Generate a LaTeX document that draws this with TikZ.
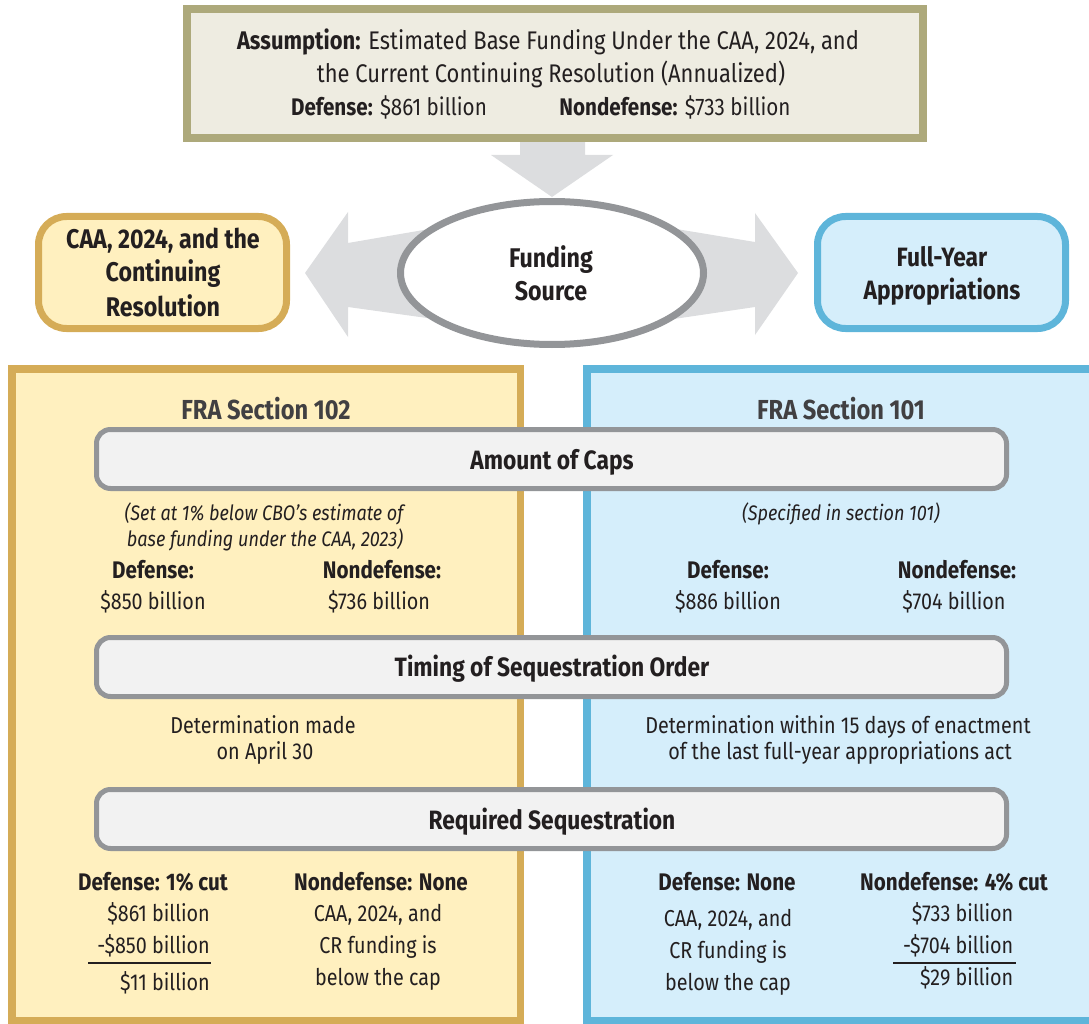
\documentclass[tikz,border=0pt]{standalone}
\usepackage{fontspec}
\setmainfont{Fira Sans}[FakeStretch=0.86]
\usetikzlibrary{shapes.geometric}
\definecolor{ink}{HTML}{231F20}
\definecolor{hdr}{HTML}{414042}
\definecolor{olive}{HTML}{ADA97B}
\definecolor{topfill}{HTML}{EEECE1}
\definecolor{gold}{HTML}{D5AC57}
\definecolor{yfill}{HTML}{FFF0BF}
\definecolor{bluel}{HTML}{5EB5DA}
\definecolor{bfill}{HTML}{D5EEFB}
\definecolor{barline}{HTML}{939598}
\definecolor{barfill}{HTML}{F2F2F2}
\definecolor{arrowc}{HTML}{DCDDDF}
\begin{document}
\begin{tikzpicture}[x=1pt,y=-1pt,
  txt/.style={inner sep=0pt, anchor=base, text=ink, font=\fontsize{23}{27}\selectfont},
  btxt/.style={txt, font=\fontsize{24}{28}\selectfont\bfseries},
  htxt/.style={txt, font=\fontsize{26.5}{30}\selectfont\bfseries},
  itxt/.style={txt, font=\fontsize{21}{25}\selectfont\itshape},
  rtxt/.style={txt, anchor=base east},
  toptxt/.style={txt, font=\fontsize{25.5}{29}\selectfont},
  hdrtxt/.style={txt, text=hdr, font=\fontsize{27.5}{31}\selectfont\bfseries},
  bar/.style={draw=barline, fill=barfill, line width=5pt, rounded corners=14pt, minimum width=910pt, minimum height=59pt, inner sep=0pt},
  sidebox/.style={line width=7pt, rounded corners=28pt, minimum width=248pt, minimum height=112pt, inner sep=0pt},
  panel/.style={line width=7.5pt},
  bigarrow/.style={fill=arrowc, draw=none}
]
\useasboundingbox (0,0) rectangle (1089,1024);
\clip (0,0) rectangle (1089,1024);

% block arrows
\fill[bigarrow] (520,140) -- (585,140) -- (585,155) -- (613,155) -- (552,197) -- (491,155) -- (520,155) -- cycle;
\fill[bigarrow] (305,273) -- (348,212) -- (348,243) -- (470,222) -- (470,324) -- (348,307) -- (348,337) -- cycle;
\fill[bigarrow] (798,273) -- (755,213) -- (755,242) -- (640,223) -- (640,324) -- (755,307) -- (755,335) -- cycle;

% top box
\node[draw=olive, fill=topfill, line width=8pt, minimum width=736pt, minimum height=129pt, inner sep=0pt] (top) at (555,73.5) {};
\node[toptxt] (t1) at (548,50) {\textbf{Assumption:} Estimated Base Funding Under the CAA, 2024, and};
\node[toptxt] (t2) at (551,83) {the Current Continuing Resolution (Annualized)};
\node[txt, font=\fontsize{24}{28}\selectfont] (t3) at (389,116) {\textbf{Defense:} \$861 billion};
\node[txt, font=\fontsize{24}{28}\selectfont] (t4) at (675,116) {\textbf{Nondefense:} \$733 billion};

% ellipse
\node[ellipse, draw=barline, fill=white, line width=7pt, minimum width=303pt, minimum height=143pt, inner sep=0pt] (fs) at (552,273) {};
\node[htxt, font=\fontsize{27}{31}\selectfont\bfseries] (fs1) at (551,268) {Funding};
\node[htxt, font=\fontsize{27}{31}\selectfont\bfseries] (fs2) at (551,300) {Source};

% side boxes
\node[sidebox, draw=gold, fill=yfill] (caa) at (162.5,272.5) {};
\node[htxt, font=\fontsize{27}{31}\selectfont\bfseries] (caa1) at (163,249) {CAA, 2024, and the};
\node[htxt, font=\fontsize{27}{31}\selectfont\bfseries] (caa2) at (163,282) {Continuing};
\node[htxt, font=\fontsize{27}{31}\selectfont\bfseries] (caa3) at (163,316) {Resolution};

\node[sidebox, draw=bluel, fill=bfill] (fy) at (941.5,272.5) {};
\node[htxt] (fy1) at (942,266) {Full-Year};
\node[htxt] (fy2) at (942,299) {Appropriations};

% panels
\draw[panel, draw=gold, fill=yfill] (11.75,368.75) rectangle (520.25,1020.25);
\draw[panel, draw=bluel, fill=bfill] (586.75,368.75) rectangle (1110,1020.25);
\node[hdrtxt] (s102) at (266,419) {FRA Section 102};
\node[hdrtxt] (s101) at (841,419) {FRA Section 101};

% bars
\node[bar] (caps) at (551.5,459) {};
\node[htxt] (capst) at (552,469) {Amount of Caps};
\node[bar] (timing) at (551.5,667) {};
\node[htxt] (timingt) at (552,676) {Timing of Sequestration Order};
\node[bar] (req) at (551.5,819) {};
\node[htxt] (reqt) at (552,829) {Required Sequestration};

% amount of caps details
\node[itxt] (n1) at (264,520) {(Set at 1\% below CBO’s estimate of};
\node[itxt] (n2) at (265,546) {base funding under the CAA, 2023)};
\node[btxt] (ld) at (153,578) {Defense:};
\node[txt] (ldv) at (153,609) {\$850 billion};
\node[btxt] (lnd) at (382,578) {Nondefense:};
\node[txt] (lndv) at (379,609) {\$736 billion};

\node[itxt] (n3) at (841,520) {(Specified in section 101)};
\node[btxt] (rd) at (728,578) {Defense:};
\node[txt] (rdv) at (728,609) {\$886 billion};
\node[btxt] (rnd) at (957,578) {Nondefense:};
\node[txt] (rndv) at (954,609) {\$704 billion};

% timing details
\node[txt] (tl1) at (263,733) {Determination made};
\node[txt] (tl2) at (265,759) {on April 30};
\node[txt] (tr1) at (838,733) {Determination within 15 days of enactment};
\node[txt] (tr2) at (840,759) {of the last full-year appropriations act};

% required details left
\node[btxt] (qld) at (153,890) {Defense: 1\% cut};
\node[rtxt] (qld1) at (210,921) {\$861 billion};
\node[rtxt] (qld2) at (210,953) {-\$850 billion};
\coordinate (ql1) at (88,963);
\coordinate (ql2) at (211,963);
\draw[ink, line width=1.3pt] (ql1) -- (ql2);
\node[rtxt] (qld3) at (210,990) {\$11 billion};

\node[btxt] (qlnd) at (381,890) {Nondefense: None};
\node[txt] (qlnd1) at (378,921) {CAA, 2024, and};
\node[txt] (qlnd2) at (378,953) {CR funding is};
\node[txt] (qlnd3) at (378,985) {below the cap};

% required details right
\node[btxt] (qrd) at (727,890) {Defense: None};
\node[txt] (qrd1) at (728,926) {CAA, 2024, and};
\node[txt] (qrd2) at (728,958) {CR funding is};
\node[txt] (qrd3) at (728,990) {below the cap};

\node[btxt] (qrnd) at (954,890) {Nondefense: 4\% cut};
\node[rtxt] (qrnd1) at (1013.5,921) {\$733 billion};
\node[rtxt] (qrnd2) at (1013.5,953) {-\$704 billion};
\coordinate (qr1) at (893,963);
\coordinate (qr2) at (1016,963);
\draw[ink, line width=1.3pt] (qr1) -- (qr2);
\node[rtxt] (qrnd3) at (1013.5,985) {\$29 billion};
\end{tikzpicture}
\end{document}
